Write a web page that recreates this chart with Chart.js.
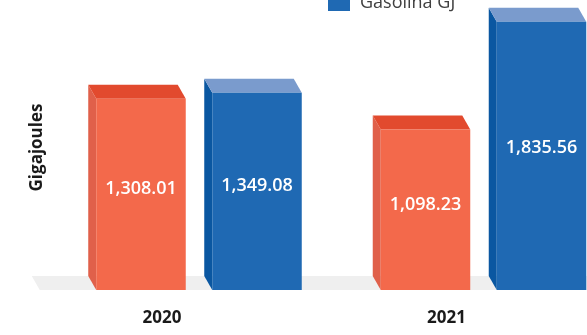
<!DOCTYPE html>
<html>
<head>
<meta charset="utf-8">
<script src="https://cdn.jsdelivr.net/npm/chart.js@4/dist/chart.umd.min.js"></script>
<style>
  html, body { margin: 0; padding: 0; background: #ffffff; overflow: hidden; }
  #wrap { width: 587px; height: 335px; overflow: hidden; position: relative; }
  canvas { display: block; }
</style>
</head>
<body>
<div id="wrap"><canvas id="chart" width="640" height="335"></canvas></div>
<script>
// Energy use per year, in gigajoules
const categories = ['2020', '2021'];
const dieselGJ = [1308.01, 1098.23];
const gasolineGJ = [1349.08, 1835.56];
const seriesNames = ['Diésel GJ', 'Gasolina GJ'];
const axisTitle = 'Gigajoules';
const yMax = 1950;

// Face colours for the 3D columns: front, top, left side
const palette = [
  { front: '#F3694B', top: '#E24A2E', side: '#E0604A' },
  { front: '#1F69B3', top: '#7A9BCD', side: '#0A57A1' }
];
const DEPTH_X = -8;
const DEPTH_Y = -14;
const FONT = '"Open Sans", "Noto Sans", sans-serif';

// Floor band plus the top and side faces of each column
const depthPlugin = {
  id: 'depth3d',
  beforeDatasetsDraw(chart) {
    const { ctx, chartArea } = chart;
    const base = chart.scales.y.getPixelForValue(0);
    ctx.save();
    // floor
    const fl = chartArea.left - 17;
    ctx.fillStyle = '#EFEFEF';
    ctx.beginPath();
    ctx.moveTo(fl, base);
    ctx.lineTo(fl + DEPTH_X, base + DEPTH_Y);
    ctx.lineTo(chart.width + 20, base + DEPTH_Y);
    ctx.lineTo(chart.width + 20, base);
    ctx.closePath();
    ctx.fill();
    chart.data.datasets.forEach((ds, di) => {
      const meta = chart.getDatasetMeta(di);
      const col = palette[di];
      meta.data.forEach(bar => {
        const left = bar.x - bar.width / 2;
        const right = bar.x + bar.width / 2;
        const top = bar.y;
        const bottom = bar.base;
        // side face
        ctx.fillStyle = col.side;
        ctx.beginPath();
        ctx.moveTo(left, bottom);
        ctx.lineTo(left + DEPTH_X, bottom + DEPTH_Y);
        ctx.lineTo(left + DEPTH_X, top + DEPTH_Y);
        ctx.lineTo(left, top);
        ctx.closePath();
        ctx.fill();
        // top face
        ctx.fillStyle = col.top;
        ctx.beginPath();
        ctx.moveTo(left, top);
        ctx.lineTo(left + DEPTH_X, top + DEPTH_Y);
        ctx.lineTo(right + DEPTH_X, top + DEPTH_Y);
        ctx.lineTo(right, top);
        ctx.closePath();
        ctx.fill();
      });
    });
    ctx.restore();
  },
  afterDatasetsDraw(chart) {
    const { ctx } = chart;
    ctx.save();
    ctx.fillStyle = '#ffffff';
    ctx.font = '600 18px ' + FONT;
    ctx.textAlign = 'center';
    ctx.textBaseline = 'middle';
    chart.data.datasets.forEach((ds, di) => {
      const meta = chart.getDatasetMeta(di);
      meta.data.forEach((bar, i) => {
        const v = ds.data[i];
        const txt = v.toLocaleString('en-US', { minimumFractionDigits: 2, maximumFractionDigits: 2 });
        const y = bar.y + (bar.base - bar.y) * 0.47;
        ctx.fillText(txt, bar.x, y);
      });
    });
    ctx.restore();
  }
};

// Stacked legend in the upper right
const legendPlugin = {
  id: 'stackLegend',
  afterDraw(chart) {
    const { ctx } = chart;
    const n = chart.data.datasets.length;
    ctx.save();
    ctx.font = '18px ' + FONT;
    ctx.textAlign = 'left';
    ctx.textBaseline = 'alphabetic';
    chart.data.datasets.forEach((ds, di) => {
      const baseline = 8 - (n - 1 - di) * 26;
      ctx.fillStyle = palette[di].front;
      ctx.fillRect(328, baseline - 10, 22, 13);
      ctx.fillStyle = '#404040';
      ctx.fillText(ds.label, 360, baseline);
    });
    ctx.restore();
  }
};

new Chart(document.getElementById('chart'), {
  type: 'bar',
  data: {
    labels: categories,
    datasets: [
      { label: seriesNames[0], data: dieselGJ, backgroundColor: palette[0].front, borderWidth: 0, clip: false },
      { label: seriesNames[1], data: gasolineGJ, backgroundColor: palette[1].front, borderWidth: 0, clip: false }
    ]
  },
  options: {
    responsive: false,
    animation: false,
    devicePixelRatio: 1,
    categoryPercentage: 0.8155,
    barPercentage: 0.7716,
    layout: { padding: { left: 27.3, right: 14.25, top: 5, bottom: -11 } },
    plugins: {
      legend: { display: false },
      tooltip: { enabled: false }
    },
    scales: {
      x: {
        grid: { display: false, drawTicks: false },
        border: { display: false },
        ticks: {
          labelOffset: -37,
          padding: 17.8,
          color: '#1a1a1a',
          font: { family: FONT, size: 17, weight: 'bold' }
        }
      },
      y: {
        min: 0,
        max: yMax,
        grid: { display: false, drawTicks: false },
        border: { display: false },
        ticks: { display: false },
        title: {
          display: true,
          text: axisTitle,
          color: '#1a1a1a',
          padding: { top: 0, bottom: 9.05 },
          font: { family: FONT, size: 17, weight: 'bold' }
        }
      }
    }
  },
  plugins: [depthPlugin, legendPlugin]
});
</script>
</body>
</html>
